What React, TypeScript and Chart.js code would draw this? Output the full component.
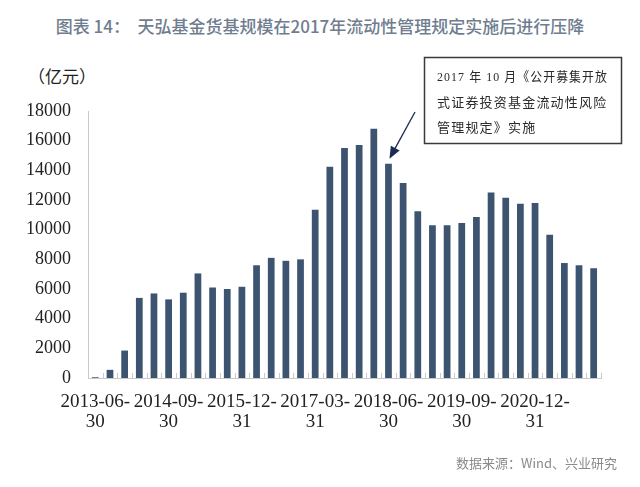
import React, { useEffect, useRef } from "react";
import { Chart, registerables } from "chart.js";

Chart.register(...registerables);

const categories: string[][] = [
  ["2013-06-", "30"], ["2013-09-", "30"], ["2013-12-", "31"], ["2014-03-", "31"], ["2014-06-", "30"],
  ["2014-09-", "30"], ["2014-12-", "31"], ["2015-03-", "31"], ["2015-06-", "30"], ["2015-09-", "30"],
  ["2015-12-", "31"], ["2016-03-", "31"], ["2016-06-", "30"], ["2016-09-", "30"], ["2016-12-", "31"],
  ["2017-03-", "31"], ["2017-06-", "30"], ["2017-09-", "30"], ["2017-12-", "31"], ["2018-03-", "31"],
  ["2018-06-", "30"], ["2018-09-", "30"], ["2018-12-", "31"], ["2019-03-", "31"], ["2019-06-", "30"],
  ["2019-09-", "30"], ["2019-12-", "31"], ["2020-03-", "31"], ["2020-06-", "30"], ["2020-09-", "30"],
  ["2020-12-", "31"], ["2021-03-", "31"], ["2021-06-", "30"], ["2021-09-", "30"], ["2021-12-", "31"],
];

const fundSize: number[] = [
  50, 550, 1850, 5400, 5700, 5300, 5750, 7050, 6100, 6000,
  6150, 7600, 8100, 7900, 8000, 11350, 14250, 15500, 15700, 16800,
  14450, 13150, 11250, 10300, 10300, 10450, 10850, 12500, 12150, 11750,
  11800, 9650, 7750, 7600, 7400,
];

const yTicks: number[] = [0, 2000, 4000, 6000, 8000, 10000, 12000, 14000, 16000, 18000];

const labelEvery = 5;
const annotationIndex = 20;
const annotationLines: string[] = [
  "2017 年 10 月《公开募集开放",
  "式证券投资基金流动性风险",
  "管理规定》实施",
];

const innerTicksPlugin = {
  id: "innerTicks",
  afterDraw(chart: any) {
    const { ctx, scales } = chart;
    const x = scales.x;
    const y = scales.y;
    const base = y.getPixelForValue(0);
    ctx.save();
    ctx.strokeStyle = "#c9c9c9";
    ctx.lineWidth = 1;
    const step = x.getPixelForValue(1) - x.getPixelForValue(0);
    for (let i = 0; i <= categories.length; i++) {
      const px = Math.round(x.getPixelForValue(i) - step / 2) + 0.5;
      ctx.beginPath();
      ctx.moveTo(px, base);
      ctx.lineTo(px, base - 5);
      ctx.stroke();
    }
    ctx.restore();
  },
};

const annotationPlugin = {
  id: "annotationBox",
  afterDraw(chart: any) {
    const { ctx, scales } = chart;
    const x = scales.x;
    const y = scales.y;
    const boxL = 424.5, boxT = 57.5, boxW = 197, boxH = 86;
    ctx.save();
    ctx.fillStyle = "#ffffff";
    ctx.fillRect(boxL, boxT, boxW, boxH);
    ctx.strokeStyle = "#3a3a3a";
    ctx.lineWidth = 1.5;
    ctx.strokeRect(boxL, boxT, boxW, boxH);
    ctx.fillStyle = "#2a2a2a";
    ctx.font = "13px 'Liberation Serif', 'Noto Sans CJK SC'";
    ctx.textBaseline = "middle";
    ctx.textAlign = "left";
    try { (ctx as any).letterSpacing = "1.2px"; } catch (e) {}
    annotationLines.forEach((t, i) => {
      ctx.fillText(t, 437, 78 + i * 25.5, 171);
    });
    try { (ctx as any).letterSpacing = "0px"; } catch (e) {}
    // arrow pointing at the bar
    const tipX = x.getPixelForValue(annotationIndex) + 1;
    const tipY = y.getPixelForValue(fundSize[annotationIndex]) - 5;
    const sx = 415, sy = 112;
    const ang = Math.atan2(tipY - sy, tipX - sx);
    ctx.strokeStyle = "#1b2a55";
    ctx.fillStyle = "#1b2a55";
    ctx.lineWidth = 1.3;
    ctx.beginPath();
    ctx.moveTo(sx, sy);
    ctx.lineTo(tipX - Math.cos(ang) * 8, tipY - Math.sin(ang) * 8);
    ctx.stroke();
    const hl = 12, hw = 5;
    ctx.beginPath();
    ctx.moveTo(tipX, tipY);
    ctx.lineTo(tipX - Math.cos(ang) * hl + Math.sin(ang) * hw, tipY - Math.sin(ang) * hl - Math.cos(ang) * hw);
    ctx.lineTo(tipX - Math.cos(ang) * hl - Math.sin(ang) * hw, tipY - Math.sin(ang) * hl + Math.cos(ang) * hw);
    ctx.closePath();
    ctx.fill();
    ctx.restore();
  },
};

export default function App() {
  const ref = useRef<HTMLCanvasElement | null>(null);

  useEffect(() => {
    if (!ref.current) return;
    const chart = new Chart(ref.current, {
      type: "bar",
      data: {
        labels: categories,
        datasets: [
          {
            data: fundSize,
            backgroundColor: "#3d5470",
            barPercentage: 0.46,
            categoryPercentage: 1,
          },
        ],
      },
      options: {
        animation: false,
        responsive: false,
        maintainAspectRatio: false,
        layout: { padding: { left: 0, right: 39, top: 111, bottom: 47 } },
        plugins: { legend: { display: false }, tooltip: { enabled: false } },
        scales: {
          x: {
            offset: true,
            grid: { display: false, drawTicks: false },
            border: { display: true, color: "#c9c9c9", width: 1 },
            ticks: {
              autoSkip: false,
              maxRotation: 0,
              minRotation: 0,
              padding: 14,
              color: "#222222",
              font: { family: "'Liberation Serif', 'Times New Roman', serif", size: 19, lineHeight: 1.05 },
              callback: (_v: any, i: number) => (i % labelEvery === 0 ? categories[i] : null),
            },
            afterFit: (s: any) => { s.height = 62; },
          },
          y: {
            min: 0,
            max: 18000,
            afterBuildTicks: (s: any) => { s.ticks = yTicks.map((v) => ({ value: v })); },
            grid: { display: false, drawTicks: false },
            border: { display: true, color: "#c9c9c9", width: 1 },
            ticks: {
              padding: 17,
              color: "#222222",
              font: { family: "'Liberation Serif', 'Times New Roman', serif", size: 18 },
              callback: (v: any) => String(v),
            },
            afterFit: (s: any) => { s.width = 88; },
          },
        },
      },
      plugins: [innerTicksPlugin, annotationPlugin],
    });
    return () => chart.destroy();
  }, []);

  return (
    <div style={{ position: "absolute", left: 0, top: 0, width: 640, height: 487, background: "#ffffff", overflow: "hidden" }}>
      <div
        style={{
          position: "absolute", left: 0, top: 13, width: 640, textAlign: "center",
          fontFamily: "'Noto Sans CJK SC', sans-serif", fontWeight: 500, fontSize: 17,
          color: "#6f7d8f", whiteSpace: "pre",
        }}
      >
        图表 14：  天弘基金货基规模在2017年流动性管理规定实施后进行压降
      </div>
      <div
        style={{
          position: "absolute", left: 28, top: 63, fontFamily: "'Noto Sans CJK SC', serif",
          fontSize: 17, color: "#222222",
        }}
      >
        （亿元）
      </div>
      <canvas ref={ref} width={640} height={487} style={{ position: "absolute", left: 0, top: 0 }} />
      <div
        style={{
          position: "absolute", right: 23, top: 453, fontFamily: "'Noto Sans CJK SC', sans-serif",
          fontSize: 13, color: "#8a8a8a",
        }}
      >
        数据来源：Wind、兴业研究
      </div>
    </div>
  );
}
